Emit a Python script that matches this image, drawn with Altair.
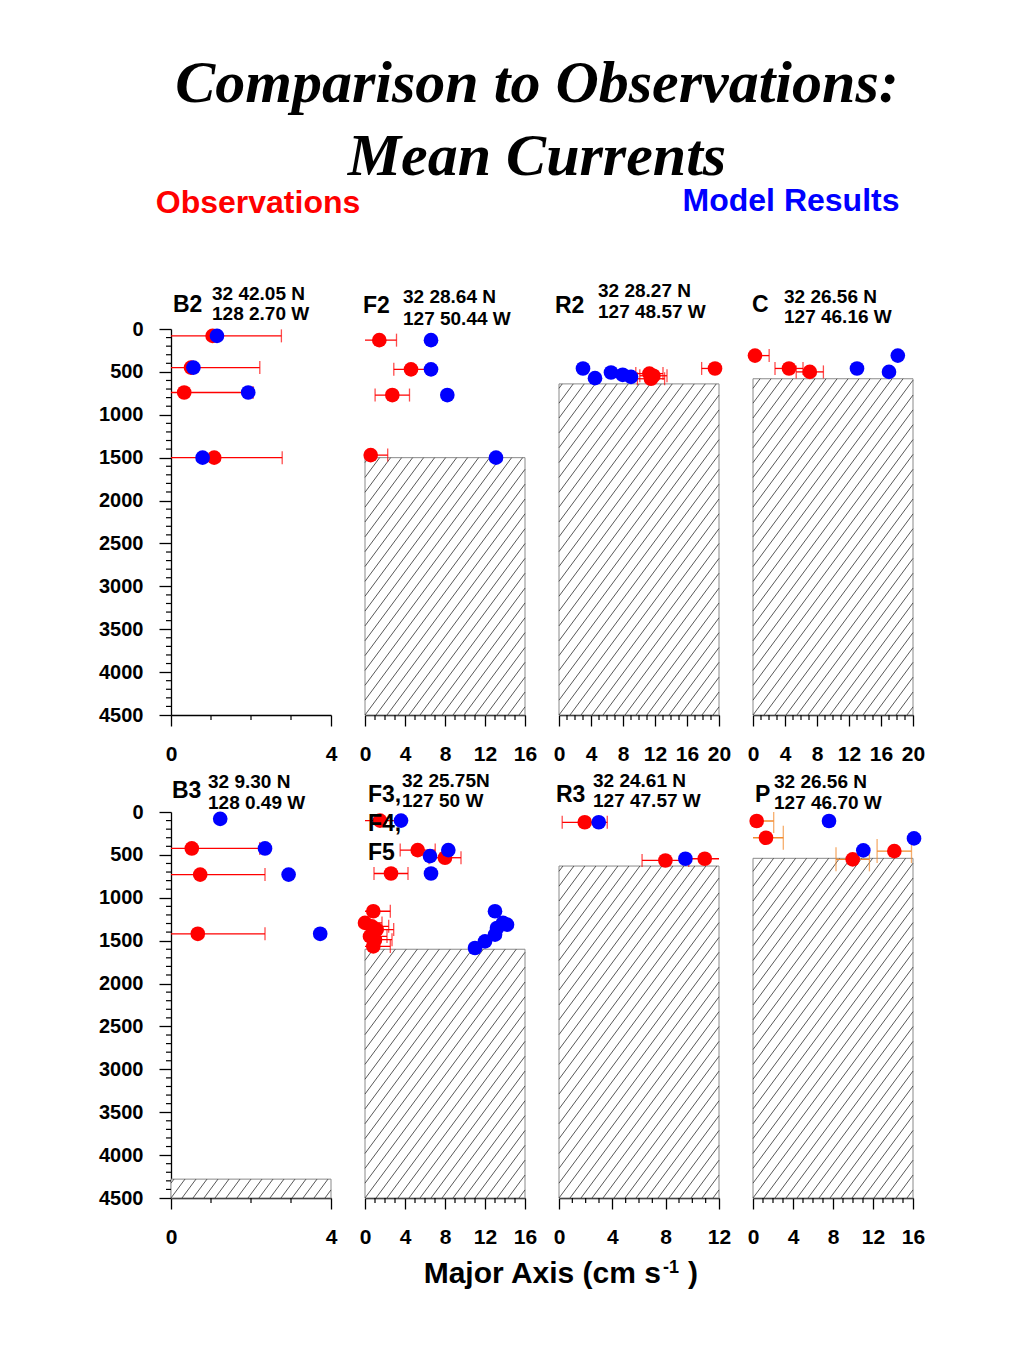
import pandas as pd
import altair as alt

# ---------------- data ----------------
title_lines = ["Comparison to Observations:", "Mean Currents"]
legend_labels = ["Observations", "Model Results"]
x_title_parts = ["Major Axis (cm s", "-1", ")"]

panel_names = ["B2", "F2", "R2", "C", "B3", "F3,\nF4,\nF5", "R3", "P"]
panel_lat = ["32 42.05 N", "32 28.64 N", "32 28.27 N", "32 26.56 N",
             "32 9.30 N", "32 25.75N", "32 24.61 N", "32 26.56 N"]
panel_lon = ["128 2.70 W", "127 50.44 W", "127 48.57 W", "127 46.16 W",
             "128 0.49 W", "127 50 W", "127 47.57 W", "127 46.70 W"]
panel_xmax = [4, 16, 20, 20, 4, 16, 12, 16]
panel_floor = [None, 1500, 640, 580, 4280, 1600, 630, 540]
depth_ticks = [0, 500, 1000, 1500, 2000, 2500, 3000, 3500, 4000, 4500]

B2_obs_depth = [80, 450, 740, 1500]
B2_obs_speed = [1.04, 0.50, 0.33, 1.08]
B2_obs_err = [1.72, 1.72, 1.72, 1.70]
B2_mod_depth = [80, 450, 740, 1500]
B2_mod_speed = [1.15, 0.56, 1.93, 0.79]

F2_obs_depth = [130, 470, 770, 1470]
F2_obs_speed = [1.43, 4.6, 2.73, 0.57]
F2_obs_err = [1.72, 1.72, 1.72, 1.70]
F2_mod_depth = [130, 470, 770, 1500]
F2_mod_speed = [6.6, 6.6, 8.23, 13.1]

R2_obs_depth = [520, 545, 580, 460]
R2_obs_speed = [11.3, 11.8, 11.5, 19.5]
R2_obs_err = [1.7, 1.7, 1.7, 1.67]
R2_mod_depth = [460, 573, 507, 534, 558]
R2_mod_speed = [3.0, 4.5, 6.5, 7.96, 9.0]

C_obs_depth = [310, 460, 500]
C_obs_speed = [0.25, 4.5, 7.1]
C_obs_err = [1.77, 1.75, 1.7]
C_mod_depth = [460, 500, 310]
C_mod_speed = [13.0, 17.0, 18.1]

B3_obs_depth = [425, 730, 1420]
B3_obs_speed = [0.52, 0.73, 0.67]
B3_obs_err = [1.7, 1.62, 1.68]
B3_mod_depth = [80, 425, 730, 1420]
B3_mod_speed = [1.23, 2.35, 2.94, 3.73]

F3_obs_depth = [100, 444, 533, 717, 1157, 1293, 1333, 1371, 1450, 1489, 1567]
F3_obs_speed = [1.5, 5.27, 8.0, 2.6, 0.83, 0.0, 0.67, 1.17, 0.5, 1.0, 0.83]
F3_obs_err = [1.8, 1.75, 1.6, 1.7, 1.7, 1.7, 1.7, 1.7, 1.7, 1.7, 1.7]
F3_mod_depth = [100, 514, 444, 717, 1157, 1293, 1313, 1352, 1430, 1508, 1586]
F3_mod_speed = [3.6, 6.5, 8.33, 6.6, 13.0, 13.8, 14.2, 13.2, 13.0, 12.0, 11.0]

R3_obs_depth = [120, 565, 545]
R3_obs_speed = [1.93, 7.98, 10.93]
R3_obs_err = [1.69, 1.75, 1.66]
R3_mod_depth = [120, 545]
R3_mod_speed = [2.98, 9.48]

P_obs_depth = [105, 300, 552, 456]
P_obs_speed = [0.37, 1.3, 9.97, 14.13]
P_obs_err = [1.7, 1.73, 1.67, 1.72]
P_mod_depth = [105, 447, 308]
P_mod_speed = [7.6, 11.03, 16.1]

obs_depths = [B2_obs_depth, F2_obs_depth, R2_obs_depth, C_obs_depth,
              B3_obs_depth, F3_obs_depth, R3_obs_depth, P_obs_depth]
obs_speeds = [B2_obs_speed, F2_obs_speed, R2_obs_speed, C_obs_speed,
              B3_obs_speed, F3_obs_speed, R3_obs_speed, P_obs_speed]
obs_errs = [B2_obs_err, F2_obs_err, R2_obs_err, C_obs_err,
            B3_obs_err, F3_obs_err, R3_obs_err, P_obs_err]
mod_depths = [B2_mod_depth, F2_mod_depth, R2_mod_depth, C_mod_depth,
              B3_mod_depth, F3_mod_depth, R3_mod_depth, P_mod_depth]
mod_speeds = [B2_mod_speed, F2_mod_speed, R2_mod_speed, C_mod_speed,
              B3_mod_speed, F3_mod_speed, R3_mod_speed, P_mod_speed]

# ---------------- style / layout ----------------
W, H = 160, 386
COL_GAP, ROW_GAP = 34, 97
DMAX = 4500
SANS = "Liberation Sans"
SERIF = "Liberation Serif"
RED, BLUE, ORANGE = "#ff0000", "#0000ff", "#f28a2e"
bar_colors = [RED, RED, RED, RED, RED, RED, RED, ORANGE]
cap_sizes = [13, 13, 13, 13, 13, 13, 13, 24]
DOT = 215

name_pos = [(2, -17), (-2, -16), (-4, -16), (-1, -17), (1, -14), (3, -10), (-3, -10), (2, -10)]
name_lh = [24, 24, 24, 24, 24, 29, 24, 24]
coord_pos = [(41, -29), (38, -26), (39, -32), (31, -26), (37, -24), (37, -25), (34, -25), (21, -24)]
coord_lh = [20, 22, 21, 20, 21, 20, 20, 21]

HATCH_STEP = 11.0
HATCH_SLOPE = 1.35


def hatch_frame(floor, xmax):
    yt = floor / DMAX * H
    h = H - yt
    rows = []
    k = int(-h / HATCH_SLOPE // HATCH_STEP) - 1
    while True:
        c = k * HATCH_STEP
        k += 1
        if c > W:
            break
        x0 = max(c, 0.0)
        x1 = min(c + h / HATCH_SLOPE, float(W))
        if x1 <= x0:
            continue
        y0 = H - HATCH_SLOPE * (x0 - c)
        y1 = H - HATCH_SLOPE * (x1 - c)
        rows.append({"hx0": x0 / W * xmax, "hx1": x1 / W * xmax,
                     "hy0": y0 / H * DMAX, "hy1": y1 / H * DMAX})
    return pd.DataFrame(rows)


def text_layer(s, x, y, size, color="black", align="left", font=SANS,
               style="normal", lh=None):
    kw = dict(align=align, baseline="alphabetic", fontSize=size,
              fontWeight="bold", font=font, fontStyle=style, color=color)
    if lh is not None:
        kw["lineBreak"] = "\n"
        kw["lineHeight"] = lh
    return alt.Chart(pd.DataFrame({"t": [s]})).mark_text(**kw).encode(
        text="t:N", x=alt.value(x), y=alt.value(y))


def build_panel(i):
    xmax = panel_xmax[i]
    left = i in (0, 4)
    xs = alt.Scale(domain=[0, xmax], nice=False, zero=False)
    ys = alt.Scale(domain=[0, DMAX], reverse=True, nice=False, zero=False)
    xaxis = alt.Axis(values=list(range(0, xmax + 1, 4)), title=None, format="d",
                     tickSize=11, labelPadding=17, labelFontSize=21,
                     labelFlush=False, labelOverlap=False)
    yaxis = (alt.Axis(values=depth_ticks, title=None, format="d", tickSize=12,
                      labelPadding=16, labelFontSize=20, labelFlush=False,
                      labelOverlap=False) if left else None)

    def X(f):
        return alt.X(f, scale=xs, axis=xaxis)

    def Y(f):
        return alt.Y(f, scale=ys, axis=yaxis)

    obs = pd.DataFrame({"depth": obs_depths[i], "speed": obs_speeds[i],
                        "err": obs_errs[i]})
    obs["lo"] = obs["speed"] - obs["err"]
    obs["hi"] = obs["speed"] + obs["err"]
    caps = pd.DataFrame({"depth": list(obs["depth"]) * 2,
                         "x": list(obs["lo"]) + list(obs["hi"])})
    mod = pd.DataFrame({"depth": mod_depths[i], "speed": mod_speeds[i]})

    layers = []
    floor = panel_floor[i]
    if floor is not None:
        rect = pd.DataFrame({"x0": [0], "x1": [xmax], "d0": [floor], "d1": [DMAX]})
        layers.append(alt.Chart(rect).mark_rect(fill="white", stroke="#8a8a8a",
                                                strokeWidth=1).encode(
            x=X("x0:Q"), x2="x1:Q", y=Y("d0:Q"), y2="d1:Q"))
        layers.append(alt.Chart(hatch_frame(floor, xmax)).mark_rule(
            color="#3a3a3a", strokeWidth=0.85).encode(
            x=X("hx0:Q"), x2="hx1:Q", y=Y("hy0:Q"), y2="hy1:Q"))

    layers.append(alt.Chart(obs).mark_rule(color=bar_colors[i], strokeWidth=1.3,
                                           clip=True).encode(
        x=X("lo:Q"), x2="hi:Q", y=Y("depth:Q")))
    layers.append(alt.Chart(caps).mark_tick(color=bar_colors[i], orient="vertical",
                                            size=cap_sizes[i], thickness=1.3,
                                            clip=True).encode(
        x=X("x:Q"), y=Y("depth:Q")))
    layers.append(alt.Chart(obs).mark_circle(size=DOT, opacity=1, color=RED).encode(
        x=X("speed:Q"), y=Y("depth:Q")))
    layers.append(alt.Chart(mod).mark_circle(size=DOT, opacity=1, color=BLUE).encode(
        x=X("speed:Q"), y=Y("depth:Q")))

    xminor = pd.DataFrame({"v": [v for v in range(0, xmax + 1) if v % 4 != 0]})
    layers.append(alt.Chart(xminor).mark_rule(color="black", strokeWidth=1.2).encode(
        x=X("v:Q"), y=alt.value(H), y2=alt.value(H + 5)))
    if left:
        yminor = pd.DataFrame({"v": [v for v in range(0, DMAX + 1, 100) if v % 500 != 0]})
        layers.append(alt.Chart(yminor).mark_rule(color="black", strokeWidth=1.2).encode(
            y=Y("v:Q"), x=alt.value(0), x2=alt.value(-5)))

    nx, ny = name_pos[i]
    layers.append(text_layer(panel_names[i], nx, ny, 23, lh=name_lh[i]))
    cx, cy = coord_pos[i]
    layers.append(text_layer(panel_lat[i] + "\n" + panel_lon[i], cx, cy, 19,
                             lh=coord_lh[i]))

    if i == 0:
        layers.append(alt.Chart(pd.DataFrame({"a": [0]})).mark_rule(
            strokeOpacity=0, strokeWidth=0).encode(
            x=alt.value(-163), x2=alt.value(-162), y=alt.value(-321), y2=alt.value(-321)))
        layers.append(text_layer(title_lines[0], 366, -227, 60, font=SERIF,
                                 style="italic", align="center"))
        layers.append(text_layer(title_lines[1], 366, -154, 60, font=SERIF,
                                 style="italic", align="center"))
        layers.append(text_layer(legend_labels[0], 87, -116, 32, color=RED,
                                 align="center"))
        layers.append(text_layer(legend_labels[1], 620, -118, 32, color=BLUE,
                                 align="center"))
    if i == 4:
        layers.append(text_layer(x_title_parts[0], 490, 471, 30, align="right"))
        layers.append(text_layer(x_title_parts[1], 492, 461, 18))
        layers.append(text_layer(x_title_parts[2], 517, 471, 30))

    return alt.layer(*layers).properties(width=W, height=H)


panels = [build_panel(i) for i in range(8)]

chart = alt.concat(*panels, columns=4,
                   spacing={"row": ROW_GAP, "column": COL_GAP},
                   bounds="flush").properties(
    padding=0, background="white"
).configure_view(stroke=None).configure_axis(
    grid=False, domainColor="black", domainWidth=1.3, tickColor="black",
    tickWidth=1.3, labelColor="black", labelFont=SANS, labelFontWeight="bold"
)

chart.save("out.html", embed_options={"renderer": "svg", "actions": False})
